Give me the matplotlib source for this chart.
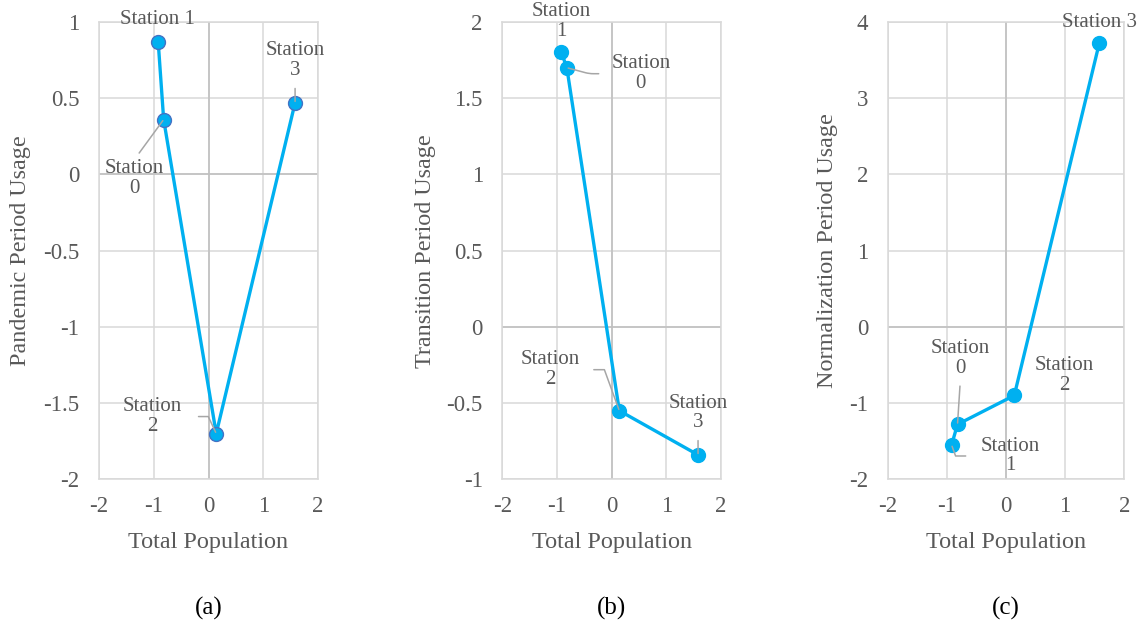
import numpy as np
import matplotlib
matplotlib.use('Agg')
import matplotlib.pyplot as plt
from matplotlib import rc

rc('font', family='Liberation Serif', size=15)
TXT = '#595959'

# data (Station 0..3)
stations = ['Station 0', 'Station 1', 'Station 2', 'Station 3']
total_pop = [-0.82, -0.92, 0.14, 1.58]
pandemic = [0.36, 0.87, -1.70, 0.47]
transition = [1.70, 1.80, -0.55, -0.84]
normalization = [-1.28, -1.55, -0.90, 3.73]

ylabels = ['Pandemic Period Usage', 'Transition Period Usage',
           'Normalization Period Usage']
captions = ['(a)', '(b)', '(c)']
ylims = [(-2, 1), (-1, 2), (-2, 4)]
ysteps = [0.5, 0.5, 1]

# label layout per panel: station -> (text, dx px, dy px, leader)
# leader = (relpos, connectionstyle, shrinkA) or None
layouts = [
    {0: ('Station\n0', -29, -59, ((0.5, 1), 'arc3', 3)),
     1: ('Station 1', -1, 22, None),
     2: ('Station\n2', -64, 17, ((1, 0.5), 'angle,angleA=0,angleB=115,rad=0', 10)),
     3: ('Station\n3', 0, 42, ((0.5, 0), 'arc3', 4))},
    {0: ('Station\n0', 74, -6, ((0, 0.5), 'angle,angleA=180,angleB=-15,rad=4', 7)),
     1: ('Station\n1', 0, 31, None),
     2: ('Station\n2', -69, 41, ((1, 0.5), 'angle,angleA=0,angleB=110,rad=0', 8)),
     3: ('Station\n3', 0, 42, ((0.5, 0), 'arc3', 4))},
    {0: ('Station\n0', 3, 66, ((0.5, 0), 'arc3', 4)),
     1: ('Station\n1', 59, -11, ((0, 0.5), 'angle,angleA=180,angleB=-70,rad=0', 9)),
     2: ('Station\n2', 50, 20, None),
     3: ('Station 3', 0, 20, None)},
]

positions = [(0.0865, 0.2368, 0.1913, 0.7282),
             (0.4387, 0.2368, 0.1910, 0.7282),
             (0.7753, 0.2368, 0.2066, 0.7282)]
ylabel_x = [-0.36, -0.35, -0.255]
edge_cols = ['#4472C4', '#00B0F0', '#00B0F0']


def draw_panel(fig, k, yvals):
    ax = fig.add_axes(positions[k])
    order = np.argsort(total_pop)
    x = np.array(total_pop)[order]
    y = np.array(yvals)[order]
    ax.plot(x, y, color='#00B0F0', lw=2.4, marker='o', ms=10,
            mfc='#00B0F0', mec=edge_cols[k], mew=1.0, zorder=5, clip_on=False)
    lo, hi = ylims[k]
    xt = np.arange(-2, 2.01, 1)
    yt = np.arange(lo, hi + 0.001, ysteps[k])
    ax.set_xlim(-2, 2)
    ax.set_ylim(lo, hi)
    ax.set_xticks(xt)
    ax.set_yticks(yt)
    ax.set_xticklabels(['%g' % v for v in xt])
    ax.set_yticklabels(['%g' % v for v in yt])
    ax.grid(True, color='#D9D9D9', lw=1.1)
    ax.set_axisbelow(True)
    for s in ax.spines.values():
        s.set_color('#D9D9D9')
        s.set_linewidth(1.1)
    ax.axhline(0, color='#BFBFBF', lw=1.1, zorder=1)
    ax.axvline(0, color='#BFBFBF', lw=1.1, zorder=1)
    ax.tick_params(length=0, colors=TXT, labelsize=16.5)
    ax.tick_params(axis='x', pad=12)
    ax.tick_params(axis='y', pad=14)
    ax.set_xlabel('Total Population', color=TXT, fontsize=17.4, va='center')
    ax.xaxis.set_label_coords(0.5, -0.139)
    ax.set_ylabel(ylabels[k], color=TXT, fontsize=17.4, va='center')
    ax.yaxis.set_label_coords(ylabel_x[k], 0.5)

    for i, (txt, dx, dy, leader) in layouts[k].items():
        kw = dict(xy=(total_pop[i], yvals[i]), xytext=(dx, dy),
                  textcoords='offset pixels', ha='center', va='center',
                  color=TXT, fontsize=15, linespacing=1.05, zorder=6,
                  annotation_clip=False)
        if leader is not None:
            relpos, cs, shA = leader
            kw['arrowprops'] = dict(arrowstyle='-', color='#A6A6A6', lw=1.1,
                                    relpos=relpos, connectionstyle=cs,
                                    shrinkA=shA, shrinkB=1)
        ax.annotate(txt, **kw)

    cx = positions[k][0] + positions[k][2] / 2
    fig.text(cx, 1 - 608 / 628, captions[k], ha='center', va='center',
             fontsize=18, color='black')


def main():
    fig = plt.figure(figsize=(11.45, 6.28), dpi=100)
    for k, vals in enumerate([pandemic, transition, normalization]):
        draw_panel(fig, k, vals)
    fig.savefig('out.png', dpi=100, facecolor='white')


if __name__ == "__main__":
    main()
